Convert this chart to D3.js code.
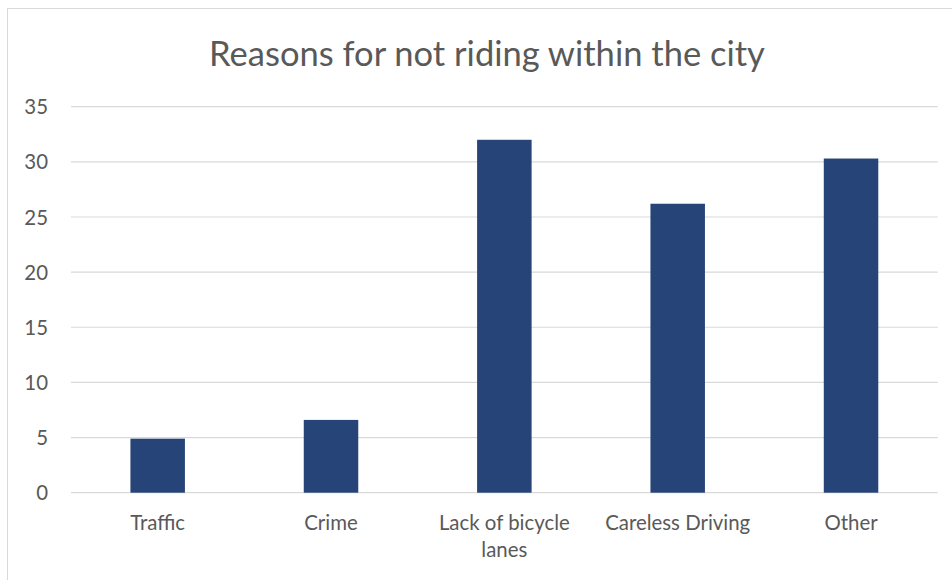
<!DOCTYPE html>
<html><head><meta charset="utf-8">
<script src="https://cdn.jsdelivr.net/npm/d3@7"></script>
<style>html,body{margin:0;padding:0;background:#fff;}svg{display:block;}</style>
</head><body>
<svg id="c" width="952" height="580"></svg>
<script>
const title = "Reasons for not riding within the city";
const categories = ["Traffic", "Crime", "Lack of bicycle lanes", "Careless Driving", "Other"];
const labelLines = [["Traffic"], ["Crime"], ["Lack of bicycle", "lanes"], ["Careless Driving"], ["Other"]];
const values = [4.9, 6.6, 32, 26.2, 30.3];
const yTicks = [0, 5, 10, 15, 20, 25, 30, 35];

const svg = d3.select("#c");
const font = "Lato, 'Open Sans', sans-serif";
const txt = "#595959";

// chart border
svg.append("rect").attr("x", 7.5).attr("y", 8.5).attr("width", 1000).attr("height", 1000)
  .attr("fill", "#fff").attr("stroke", "#d9d9d9").attr("stroke-width", 1);

const plotLeft = 71, plotRight = 937.7, plotTop = 106.7, plotBottom = 492.7;
const x = d3.scaleBand().domain(categories).range([plotLeft, plotRight]).paddingInner(0).paddingOuter(0);
const y = d3.scaleLinear().domain([0, 35]).range([plotBottom, plotTop]);

// measure label size to match reference text widths
const probe = svg.append("text").attr("font-family", font).attr("font-size", 20).text("Lack of bicycle");
const lblSize = 20 * 131 / probe.node().getComputedTextLength();
probe.remove();

// gridlines
svg.append("g").selectAll("line").data(yTicks).join("line")
  .attr("x1", plotLeft).attr("x2", plotRight)
  .attr("y1", d => y(d)).attr("y2", d => y(d))
  .attr("stroke", "#d9d9d9").attr("stroke-width", 1.2);

// y axis labels
const yAxis = d3.axisLeft(y).tickValues(yTicks).tickSize(0).tickPadding(0);
const ga = svg.append("g").attr("transform", `translate(48,0)`).call(yAxis);
ga.select(".domain").remove();
ga.selectAll("text").attr("font-family", font).attr("font-size", lblSize).attr("fill", txt).attr("dy", "0.35em");

// bars
const bw = 54.5;
svg.append("g").selectAll("rect").data(values).join("rect")
  .attr("x", (d, i) => x(categories[i]) + x.bandwidth() / 2 - bw / 2)
  .attr("width", bw)
  .attr("y", d => y(d))
  .attr("height", d => y(0) - y(d))
  .attr("fill", "#264478");

// category labels
const cl = svg.append("g");
labelLines.forEach((lines, i) => {
  const cx = x(categories[i]) + x.bandwidth() / 2;
  const t = cl.append("text").attr("x", cx).attr("y", 530)
    .attr("text-anchor", "middle").attr("font-family", font).attr("font-size", lblSize).attr("fill", txt);
  lines.forEach((l, j) => t.append("tspan").attr("x", cx).attr("dy", j === 0 ? 0 : 27).text(l));
});

// title
const tt = svg.append("text").attr("x", 487).attr("y", 66).attr("text-anchor", "middle")
  .attr("font-family", font).attr("font-size", 26).attr("fill", txt).text(title);
const w = tt.node().getComputedTextLength();
tt.attr("font-size", 26 * 556 / w);
</script>
</body></html>
